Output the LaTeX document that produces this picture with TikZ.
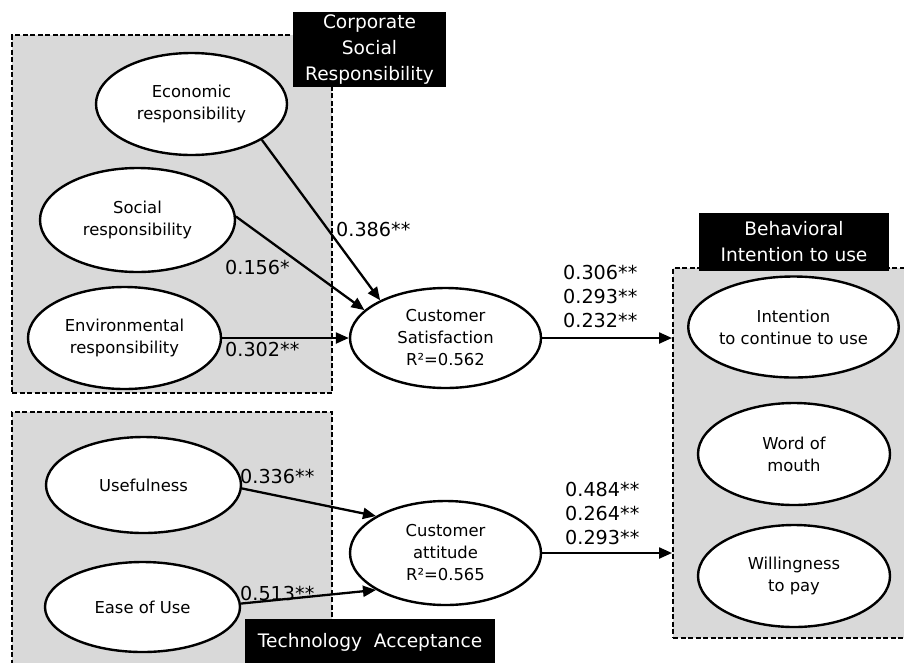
\documentclass[tikz,border=0pt]{standalone}
\usepackage{fontspec}
\setmainfont{DejaVu Sans}
\usetikzlibrary{shapes.geometric,arrows.meta}
\definecolor{boxgray}{RGB}{217,217,217}
\begin{document}
\begin{tikzpicture}[x=1pt,y=-1pt,
 ell/.style={draw,line width=2.4pt,fill=white,ellipse,inner sep=0pt,align=center,font=\fontsize{16.4}{22}\selectfont},
 grp/.style={draw,line width=2pt,dash pattern=on 5pt off 2.5pt,fill=boxgray,inner sep=0pt},
 lab/.style={fill=black,text=white,inner sep=0pt,align=center,font=\fontsize{18.6}{26}\selectfont},
 coef/.style={anchor=west,inner sep=0pt,align=left,font=\fontsize{19.2}{24}\selectfont},
 arr/.style={line width=2.3pt,-{Triangle[length=13pt,width=11pt]}}]
\clip (0,0) rectangle (904,662);
\fill[white] (0,0) rectangle (904,662);
% group boxes
\node[grp,minimum width=320pt,minimum height=358pt] (csrbox) at (172,214) {};
\node[grp,minimum width=320pt,minimum height=260pt] (tabox) at (172,542) {};
\node[grp,minimum width=242pt,minimum height=370pt] (bibox) at (794,453) {};
% group labels
\node[lab,minimum width=153pt,minimum height=75pt] (csrlab) at (369.5,49.5) {Corporate\\Social\\Responsibility};
\node[lab,minimum width=190pt,minimum height=58pt] (bilab) at (794,242) {Behavioral\\Intention to use};
\node[lab,minimum width=250pt,minimum height=46pt,anchor=north] (talab) at (370,619) {Technology\ \ Acceptance};
% ellipses
\node[ell,minimum width=191pt,minimum height=102pt] (eco) at (191.5,104) {Economic\\responsibility};
\node[ell,minimum width=195pt,minimum height=104pt] (soc) at (137.5,220) {Social\\responsibility};
\node[ell,minimum width=193pt,minimum height=102pt] (env) at (124.5,338) {Environmental\\responsibility};
\node[ell,minimum width=191pt,minimum height=100pt] (cs) at (445.5,338) {Customer\\Satisfaction\\R²=0.562};
\node[ell,minimum width=195pt,minimum height=96pt] (use) at (143.5,485) {Usefulness};
\node[ell,minimum width=195pt,minimum height=90pt] (ease) at (142.5,607) {Ease of Use};
\node[ell,minimum width=191pt,minimum height=104pt] (att) at (445.5,553) {Customer\\attitude\\R²=0.565};
\node[ell,minimum width=193pt,minimum height=101pt] (itc) at (793.5,327) {Intention\\to continue to use};
\node[ell,minimum width=192pt,minimum height=102pt] (wom) at (794,454) {Word of\\mouth};
\node[ell,minimum width=192pt,minimum height=102pt] (wtp) at (794,576) {Willingness\\to pay};
% arrows
\draw[arr] (eco.-27) -- (cs.150);
\draw[arr] (soc.2) -- (cs.161);
\draw[arr] (env.east) -- (cs.west);
\draw[arr] (cs.east) -- (cs.east -| bibox.west);
\draw[arr] (use.-2) -- (att.152);
\draw[arr] (ease.2) -- (att.208);
\draw[arr] (att.east) -- (att.east -| bibox.west);
% coefficients
\node[coef] (c1) at (336,230) {0.386**};
\node[coef] (c2) at (225,268) {0.156*};
\node[coef] (c3) at (225,350) {0.302**};
\node[coef] (c4) at (563,297) {0.306**\\0.293**\\0.232**};
\node[coef] (c5) at (240,477) {0.336**};
\node[coef] (c6) at (240,593) {0.513**};
\node[coef] (c7) at (565,513) {0.484**\\0.264**\\0.293**};
\end{tikzpicture}
\end{document}
